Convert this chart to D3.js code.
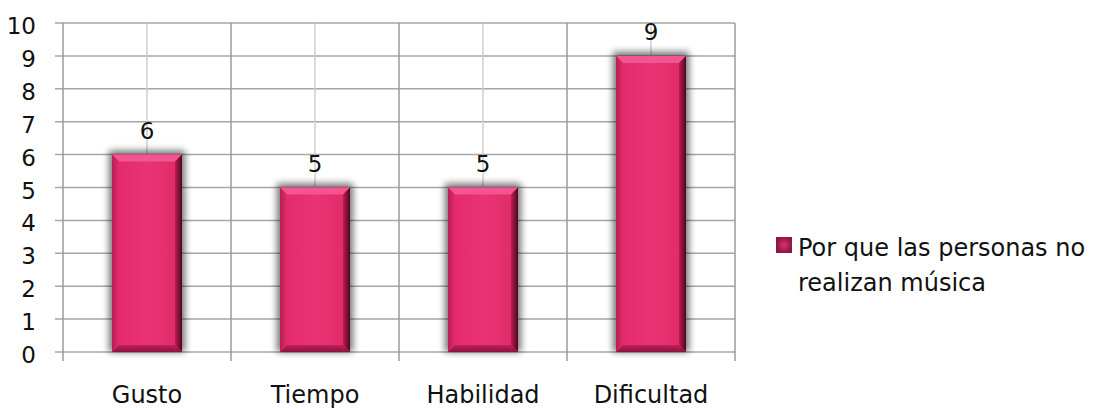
<!DOCTYPE html>
<html>
<head>
<meta charset="utf-8">
<script src="https://cdn.jsdelivr.net/npm/d3@7/dist/d3.min.js"></script>
<style>
  body { margin: 0; background: #fff; }
  svg { display: block; }
  text { font-family: "Century Gothic", "DejaVu Sans", sans-serif; font-weight: normal; fill: #111; }
</style>
</head>
<body>
<svg id="chart" width="1107" height="409"></svg>
<script>
// Chart data
const categories = ["Gusto", "Tiempo", "Habilidad", "Dificultad"];
const values = [6, 5, 5, 9];
const yTicks = [0, 1, 2, 3, 4, 5, 6, 7, 8, 9, 10];
const seriesName = ["Por que las personas no", "realizan música"];

const svg = d3.select("#chart");
const plotLeft = 63, plotRight = 735, plotTop = 23, plotBottom = 352;

const x = d3.scaleBand().domain(categories).range([plotLeft, plotRight]).paddingInner(0).paddingOuter(0);
const y = d3.scaleLinear().domain([0, 10]).range([plotBottom, plotTop]);

const defs = svg.append("defs");
const shadow = defs.append("filter").attr("id", "barShadow")
  .attr("x", "-30%").attr("y", "-30%").attr("width", "160%").attr("height", "160%");
shadow.append("feGaussianBlur").attr("in", "SourceAlpha").attr("stdDeviation", 3.5);

const faceGrad = defs.append("linearGradient").attr("id", "face").attr("x1", 0).attr("x2", 1).attr("y1", 0).attr("y2", 0);
faceGrad.append("stop").attr("offset", "0%").attr("stop-color", "#e22a69");
faceGrad.append("stop").attr("offset", "50%").attr("stop-color", "#ea3373");
faceGrad.append("stop").attr("offset", "100%").attr("stop-color", "#e02a67");

const rightGrad = defs.append("linearGradient").attr("id", "rightEdge").attr("x1", 0).attr("x2", 1).attr("y1", 0).attr("y2", 0);
rightGrad.append("stop").attr("offset", "0%").attr("stop-color", "#c01c55");
rightGrad.append("stop").attr("offset", "100%").attr("stop-color", "#4e0620");

const leftGrad = defs.append("linearGradient").attr("id", "leftEdge").attr("x1", 0).attr("x2", 1).attr("y1", 0).attr("y2", 0);
leftGrad.append("stop").attr("offset", "0%").attr("stop-color", "#b81e55");
leftGrad.append("stop").attr("offset", "100%").attr("stop-color", "#e22c6b");

const bottomGrad = defs.append("linearGradient").attr("id", "bottomEdge").attr("x1", 0).attr("x2", 0).attr("y1", 0).attr("y2", 1);
bottomGrad.append("stop").attr("offset", "0%").attr("stop-color", "#c21f59");
bottomGrad.append("stop").attr("offset", "100%").attr("stop-color", "#8c1240");

const legendGrad = defs.append("radialGradient").attr("id", "legendFill");
legendGrad.append("stop").attr("offset", "0%").attr("stop-color", "#d8346e");
legendGrad.append("stop").attr("offset", "100%").attr("stop-color", "#8e1444");

// Horizontal gridlines with tick stubs
const grid = svg.append("g");
grid.selectAll("line.h").data(yTicks).join("line")
  .attr("x1", plotLeft - 8).attr("x2", plotRight)
  .attr("y1", d => y(d)).attr("y2", d => y(d))
  .attr("stroke", "#a6a6a6").attr("stroke-width", 1.5);

// Light centre lines per category
grid.selectAll("line.c").data(categories).join("line")
  .attr("x1", d => x(d) + x.bandwidth() / 2).attr("x2", d => x(d) + x.bandwidth() / 2)
  .attr("y1", plotTop).attr("y2", plotBottom)
  .attr("stroke", "#cfcfcf").attr("stroke-width", 1.5);

// Category boundary lines (extending below as tick marks)
const bounds = categories.map(c => x(c)).concat([plotRight]);
grid.selectAll("line.b").data(bounds).join("line")
  .attr("x1", d => d).attr("x2", d => d)
  .attr("y1", plotTop).attr("y2", plotBottom + 9)
  .attr("stroke", "#9a9a9a").attr("stroke-width", 1.5);

// Y axis labels
svg.append("g").selectAll("text").data(yTicks).join("text")
  .attr("x", plotLeft - 27).attr("y", d => y(d) + 11)
  .attr("text-anchor", "end").attr("font-size", 23)
  .text(d => d);

// X axis labels
svg.append("g").selectAll("text").data(categories).join("text")
  .attr("x", d => x(d) + x.bandwidth() / 2).attr("y", 403)
  .attr("text-anchor", "middle").attr("font-size", 24)
  .text(d => d);

// Bars
const bw = 70, bev = 7;
const barData = categories.map((c, i) => ({ c, v: values[i] }));
const bars = svg.append("g").selectAll("g").data(barData).join("g")
  .attr("transform", d => `translate(${x(d.c) + x.bandwidth() / 2 - bw / 2},${y(d.v)})`);

bars.append("rect")
  .attr("x", -3).attr("y", -4)
  .attr("width", bw + 6).attr("height", d => plotBottom - y(d.v) + 4)
  .attr("fill", "#000").attr("opacity", 0.55)
  .attr("filter", "url(#barShadow)");

bars.append("rect")
  .attr("width", bw).attr("height", d => plotBottom - y(d.v))
  .attr("fill", "url(#face)");

// Bevel: top edge
bars.append("polygon")
  .attr("points", `0,0 ${bw},0 ${bw - bev},${bev} ${bev},${bev}`)
  .attr("fill", "#f2558f");
// Bevel: left edge
bars.append("polygon")
  .attr("points", d => { const h = plotBottom - y(d.v); return `0,0 ${bev},${bev} ${bev},${h - bev} 0,${h}`; })
  .attr("fill", "url(#leftEdge)");
// Bevel: right edge
bars.append("polygon")
  .attr("points", d => { const h = plotBottom - y(d.v); return `${bw},0 ${bw},${h} ${bw - bev},${h - bev} ${bw - bev},${bev}`; })
  .attr("fill", "url(#rightEdge)");
// Bevel: bottom edge
bars.append("polygon")
  .attr("points", d => { const h = plotBottom - y(d.v); return `0,${h} ${bev},${h - bev} ${bw - bev},${h - bev} ${bw},${h}`; })
  .attr("fill", "url(#bottomEdge)");

// Value labels
svg.append("g").selectAll("text").data(barData).join("text")
  .attr("x", d => x(d.c) + x.bandwidth() / 2).attr("y", d => y(d.v) - 16)
  .attr("text-anchor", "middle").attr("font-size", 23)
  .text(d => d.v);

// Legend
const lg = svg.append("g").attr("transform", "translate(776,237)");
lg.append("rect").attr("width", 16).attr("height", 16).attr("fill", "url(#legendFill)");
lg.selectAll("text").data(seriesName).join("text")
  .attr("x", 22).attr("y", (d, i) => 19 + i * 35)
  .attr("font-size", 24)
  .text(d => d);
</script>
</body>
</html>
